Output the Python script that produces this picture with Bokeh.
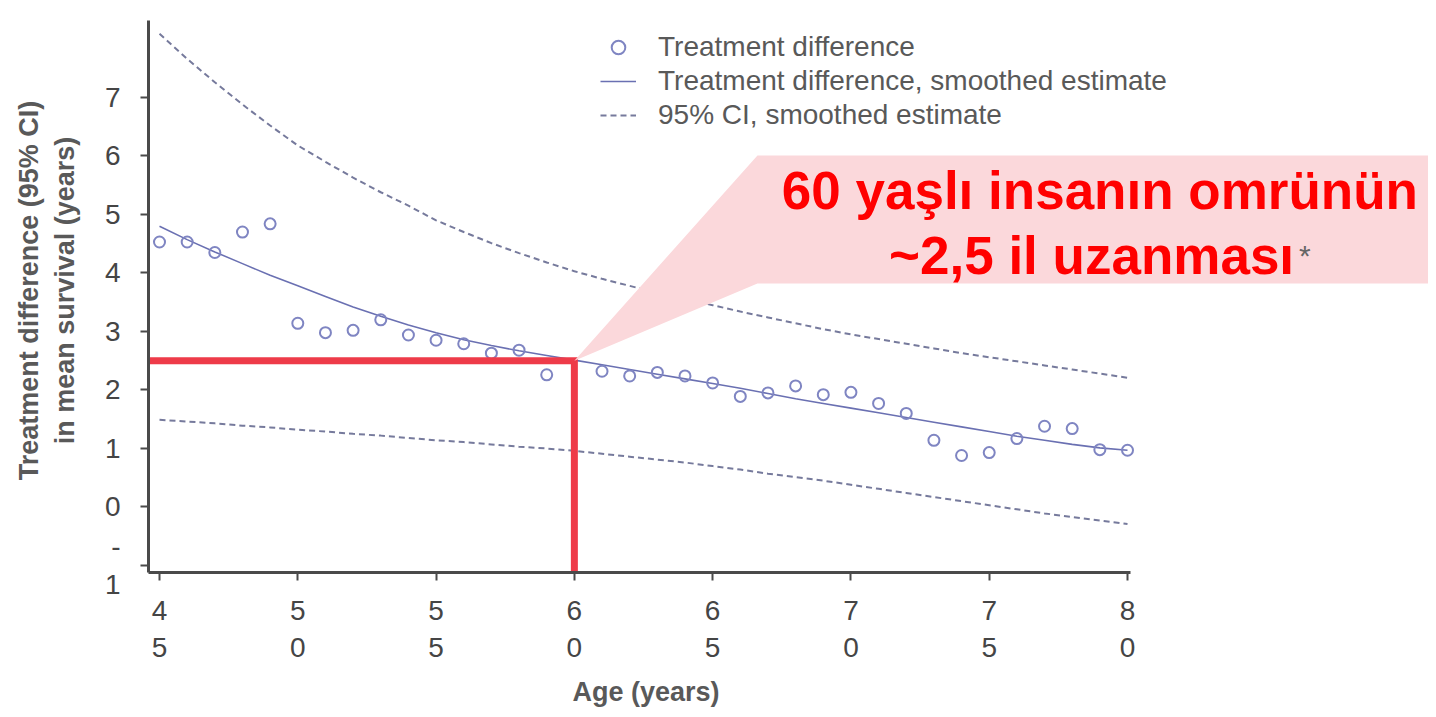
from bokeh.plotting import figure
from bokeh.models import Range1d, FixedTicker, Legend, LegendItem, Title
from bokeh.core.properties import value
from bokeh.embed import file_html
from bokeh.resources import INLINE

# ---------------- data ----------------
ages = list(range(45, 81))
smoothed = [4.80, 4.57, 4.36, 4.16, 3.96, 3.78, 3.60, 3.42, 3.26, 3.11,
            2.98, 2.86, 2.76, 2.67, 2.59, 2.51, 2.43, 2.35, 2.27, 2.19,
            2.11, 2.03, 1.94, 1.85, 1.77, 1.69, 1.61, 1.53, 1.45, 1.37,
            1.29, 1.21, 1.14, 1.07, 1.01, 0.97]
ci_upper = [8.09, 7.66, 7.26, 6.88, 6.52, 6.18, 5.90, 5.63, 5.38, 5.15,
            4.90, 4.70, 4.51, 4.34, 4.18, 4.03, 3.90, 3.78, 3.66, 3.55,
            3.45, 3.34, 3.24, 3.14, 3.04, 2.95, 2.87, 2.79, 2.71, 2.63,
            2.56, 2.49, 2.42, 2.35, 2.28, 2.21]
ci_lower = [1.49, 1.46, 1.43, 1.39, 1.36, 1.32, 1.29, 1.25, 1.22, 1.18,
            1.14, 1.11, 1.07, 1.03, 1.00, 0.96, 0.91, 0.86, 0.81, 0.76,
            0.70, 0.64, 0.57, 0.51, 0.45, 0.38, 0.31, 0.24, 0.17, 0.10,
            0.03, -0.04, -0.11, -0.17, -0.23, -0.29]
point_ages = [45, 46, 47, 48, 49, 50, 51, 52, 53, 54, 55, 56, 57, 58, 59,
              61, 62, 63, 64, 65, 66, 67, 68, 69, 70, 71, 72, 73, 74, 75,
              76, 77, 78, 79, 80]
point_diff = [4.53, 4.53, 4.35, 4.70, 4.84, 3.14, 2.98, 3.02, 3.20, 2.94,
              2.85, 2.79, 2.63, 2.68, 2.26,
              2.32, 2.24, 2.30, 2.24, 2.12, 1.89, 1.95, 2.07, 1.92, 1.96,
              1.77, 1.60, 1.14, 0.88, 0.93, 1.17, 1.38, 1.34, 0.98, 0.97]

highlight_age = 60
highlight_gain = 2.5

x_ticks = [45, 50, 55, 60, 65, 70, 75, 80]
x_tick_labels = ["4\n5", "5\n0", "5\n5", "6\n0", "6\n5", "7\n0", "7\n5", "8\n0"]
y_ticks = [-1, 0, 1, 2, 3, 4, 5, 6, 7]
y_tick_labels = ["-\n1", "0", "1", "2", "3", "4", "5", "6", "7"]

legend_labels = ["Treatment difference",
                 "Treatment difference, smoothed estimate",
                 "95% CI, smoothed estimate"]
x_title = "Age (years)"
y_title = "Treatment difference (95% CI)\nin mean survival (years)"
callout_lines = ["60 yaşlı insanın omrünün", "~2,5 il uzanması"]
callout_mark = "*"

# ---------------- styling ----------------
FONT = "Liberation Sans"
PT_COLOR = "#7f85c2"
LINE_COLOR = "#6a70b2"
CI_COLOR = "#767a9c"
RED = "#ee3b49"
PINK = "#fbd8db"
AXIS_COLOR = "#4a4a4a"

X0, X1 = 44.602, 90.883
Y0, Y1 = -1.1197, 8.521

p = figure(width=1428, height=709,
           x_range=Range1d(X0, X1), y_range=Range1d(Y0, Y1),
           output_backend="svg", toolbar_location=None,
           min_border_left=148, min_border_right=0,
           min_border_top=8, min_border_bottom=137)
p.outline_line_color = None
p.xgrid.visible = False
p.ygrid.visible = False
p.background_fill_color = "white"
p.border_fill_color = "white"

for ax in (p.xaxis[0], p.yaxis[0]):
    ax.axis_line_color = AXIS_COLOR
    ax.axis_line_width = 3
    ax.major_tick_line_color = AXIS_COLOR
    ax.major_tick_line_width = 2
    ax.major_tick_out = 8
    ax.major_tick_in = 0
    ax.minor_tick_line_color = None
    ax.major_label_text_font = FONT
    ax.major_label_text_font_size = "28px"
    ax.major_label_text_color = "#454545"
    ax.axis_label_text_font = FONT
    ax.axis_label_text_font_style = "bold"
    ax.axis_label_text_font_size = "27px"
    ax.axis_label_text_color = "#595959"

p.xaxis.ticker = FixedTicker(ticks=x_ticks)
p.xaxis.major_label_overrides = dict(zip(x_ticks, x_tick_labels))
p.xaxis.bounds = (X0, 80.1)
p.xaxis.major_label_standoff = 14
# small blank spacer under the tick labels, so the title below sits lower
p.xaxis.axis_label = " "
p.xaxis.axis_label_text_font_size = "6px"
p.xaxis.axis_label_standoff = 0

p.yaxis.ticker = FixedTicker(ticks=y_ticks)
p.yaxis.major_label_overrides = dict(zip(y_ticks, y_tick_labels))
p.yaxis.bounds = (Y0, 8.32)
p.yaxis.major_label_standoff = 20
p.yaxis.major_label_orientation = "horizontal"
p.yaxis.axis_label = y_title
p.yaxis.axis_label_standoff = 22

# x axis title, centred under the drawn axis (45..80)
p.add_layout(Title(text=x_title, align="left", offset=424, standoff=0,
                   text_font=FONT, text_font_size="27px",
                   text_font_style="bold", text_color="#595959"), "below")

# CI and smoothed lines
up = p.line(ages, ci_upper, line_color=CI_COLOR, line_width=2, line_dash="6 4")
p.line(ages, ci_lower, line_color=CI_COLOR, line_width=2, line_dash="6 4")
sm = p.line(ages, smoothed, line_color=LINE_COLOR, line_width=1.6)
pts = p.scatter(point_ages, point_diff, marker="circle", size=11,
                fill_color=None, line_color=PT_COLOR, line_width=2)

# red guide lines at age 60
p.line([X0, highlight_age, highlight_age], [highlight_gain, highlight_gain, Y0],
       line_color=RED, line_width=7, line_join="miter")

# callout bubble
bx0, by0, by1 = 66.62, 3.82, 6.01
p.patch([highlight_age, bx0, X1 + 1, X1 + 1, bx0],
        [highlight_gain, by1, by1, by0, by0],
        fill_color=PINK, line_color=None)
p.text(x=[79.0, 78.7], y=[5.41, 4.30], text=callout_lines,
       text_font=value(FONT), text_font_style="bold", text_font_size="53px",
       text_color="#ff0000", text_align="center", text_baseline="alphabetic")
p.text(x=[86.2], y=[4.30], text=[callout_mark],
       text_font=value(FONT), text_font_size="30px", text_color="#666666",
       text_align="left", text_baseline="alphabetic")

legend = Legend(items=[LegendItem(label=legend_labels[0], renderers=[pts]),
                       LegendItem(label=legend_labels[1], renderers=[sm]),
                       LegendItem(label=legend_labels[2], renderers=[up])],
                location=(452, 440), orientation="vertical",
                glyph_width=36, glyph_height=34, label_height=34,
                label_standoff=22, spacing=0, padding=0, margin=0,
                border_line_alpha=0, background_fill_alpha=0,
                label_text_font=FONT, label_text_font_size="28px",
                label_text_color="#595959")
p.add_layout(legend)

open("out.html", "w").write(file_html(p, INLINE))
